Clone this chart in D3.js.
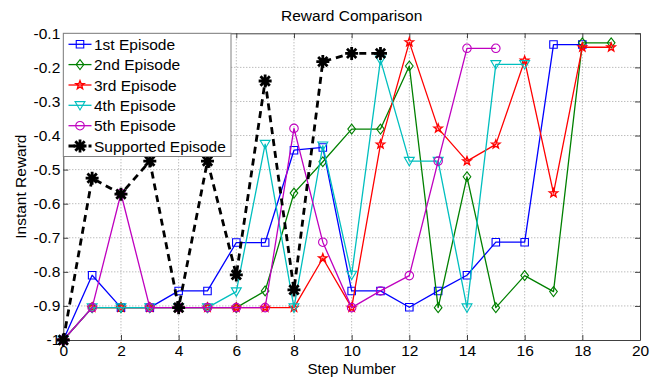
<!DOCTYPE html>
<html>
<head>
<meta charset="utf-8">
<script src="https://cdn.jsdelivr.net/npm/d3@7"></script>
<style>
html,body{margin:0;padding:0;background:#fff;}
svg{display:block;font-family:Arial,"Liberation Sans",Helvetica,sans-serif;}
</style>
</head>
<body>
<svg id="chart" width="660" height="377"></svg>
<script>
// ---- data ----
const episode1 = [-1,-0.81,-0.905,-0.905,-0.856,-0.856,-0.714,-0.714,-0.443,-0.435,-0.856,-0.856,-0.904,-0.856,-0.81,-0.713,-0.713,-0.133,-0.133];
const episode2 = [-1,-0.905,-0.905,-0.905,-0.905,-0.905,-0.905,-0.856,-0.569,-0.477,-0.381,-0.381,-0.196,-0.905,-0.521,-0.905,-0.811,-0.858,-0.128,-0.128];
const episode3 = [-1,-0.905,-0.905,-0.905,-0.905,-0.905,-0.905,-0.905,-0.905,-0.76,-0.905,-0.426,-0.126,-0.379,-0.475,-0.426,-0.18,-0.569,-0.141,-0.141];
const episode4 = [-1,-0.905,-0.905,-0.905,-0.905,-0.905,-0.858,-0.425,-0.905,-0.43,-0.809,-0.178,-0.475,-0.475,-0.905,-0.191,-0.191];
const episode5 = [-1,-0.905,-0.57,-0.905,-0.905,-0.905,-0.905,-0.905,-0.379,-0.713,-0.905,-0.856,-0.811,-0.475,-0.144,-0.144];
const supported = [-1,-0.525,-0.572,-0.475,-0.905,-0.475,-0.809,-0.24,-0.853,-0.183,-0.159,-0.159];
const seriesNames = ["1st Episode","2nd Episode","3rd Episode","4th Episode","5th Episode","Supported Episode"];
const xTicks = [0,2,4,6,8,10,12,14,16,18,20];
const yTicks = [-1,-0.9,-0.8,-0.7,-0.6,-0.5,-0.4,-0.3,-0.2,-0.1];
const title = "Reward Comparison";
const xLabel = "Step Number";
const yLabel = "Instant Reward";

// ---- styles ----
const styles = [
  {color:"#0000ff", marker:"square", width:1.3, dash:null},
  {color:"#008000", marker:"diamond", width:1.3, dash:null},
  {color:"#ff0000", marker:"star", width:1.3, dash:null},
  {color:"#00bfbf", marker:"tri", width:1.3, dash:null},
  {color:"#bf00bf", marker:"circle", width:1.3, dash:null},
  {color:"#000000", marker:"asterisk", width:2.8, dash:"7,5"}
];
const allSeries = [episode1,episode2,episode3,episode4,episode5,supported];

const svg = d3.select("#chart");
const L = 63.3, R = 640, T = 33.3, B = 340;
const x = d3.scaleLinear().domain([0,20]).range([L,R]);
const y = d3.scaleLinear().domain([-1,-0.1]).range([B,T]);
const axisColor = "#404040";

// grid
const grid = svg.append("g");
xTicks.slice(1,-1).forEach(t=>{
  grid.append("line").attr("x1",x(t)).attr("x2",x(t)).attr("y1",T).attr("y2",B)
    .attr("stroke","#a0a0a0").attr("stroke-width",1).attr("stroke-dasharray","1,2");
});
yTicks.slice(1,-1).forEach(t=>{
  grid.append("line").attr("x1",L).attr("x2",R).attr("y1",y(t)).attr("y2",y(t))
    .attr("stroke","#a0a0a0").attr("stroke-width",1).attr("stroke-dasharray","1,2");
});

// axes (ticks inward)
const fmtY = d => d === -1 ? "-1" : d.toFixed(1);
const xAxis = svg.append("g").attr("transform",`translate(0,${B})`)
  .call(d3.axisBottom(x).tickValues(xTicks).tickSizeInner(-5).tickSizeOuter(0).tickPadding(10));
const yAxis = svg.append("g").attr("transform",`translate(${L},0)`)
  .call(d3.axisLeft(y).tickValues(yTicks).tickFormat(fmtY).tickSizeInner(-5).tickSizeOuter(0).tickPadding(8));
const xAxisTop = svg.append("g").attr("transform",`translate(0,${T})`)
  .call(d3.axisTop(x).tickValues(xTicks).tickSizeInner(-5).tickSizeOuter(0).tickFormat(""));
const yAxisRight = svg.append("g").attr("transform",`translate(${R},0)`)
  .call(d3.axisRight(y).tickValues(yTicks).tickSizeInner(-5).tickSizeOuter(0).tickFormat(""));
[xAxis,yAxis,xAxisTop,yAxisRight].forEach(a=>{
  a.selectAll("path").attr("stroke",axisColor).attr("stroke-width",1);
  a.selectAll("line").attr("stroke",axisColor);
  a.selectAll("text").attr("fill","#000").style("font-size","15.5px").style("font-family","Arial, 'Liberation Sans', sans-serif");
});
xAxis.selectAll("text").attr("dy",null).attr("y",16);
yAxis.selectAll("text").attr("x",-3);

// markers
function markerPath(type, s){
  switch(type){
    case "square": { const h=s/2; return `M${-h},${-h}H${h}V${h}H${-h}Z`; }
    case "diamond": { const w=s*0.45, h=s*0.58; return `M0,${-h}L${w},0L0,${h}L${-w},0Z`; }
    case "tri": { const h=s*0.55; return `M${-h},${-h*0.75}L${h},${-h*0.75}L0,${h*0.95}Z`; }
    case "circle": { const r=s/2; return `M${r},0A${r},${r} 0 1,1 ${-r},0A${r},${r} 0 1,1 ${r},0Z`; }
    case "star": {
      const ro=s*0.58, ri=ro*0.42; let p="";
      for(let i=0;i<10;i++){ const r=i%2?ri:ro; const a=-Math.PI/2+i*Math.PI/5; p+=(i?"L":"M")+(r*Math.cos(a)).toFixed(2)+","+(r*Math.sin(a)).toFixed(2);} return p+"Z";
    }
    case "asterisk": {
      const h=s/2, d=h*0.72;
      return `M${-h},0H${h}M0,${-h}V${h}M${-d},${-d}L${d},${d}M${-d},${d}L${d},${-d}`;
    }
  }
}
const markerSize = {square:7.5, diamond:8.5, tri:9, circle:8.5, star:7.5, asterisk:13};

const line = d3.line().x((d,i)=>x(i)).y(d=>y(d));
allSeries.forEach((data,k)=>{
  const st = styles[k];
  const g = svg.append("g");
  g.append("path").datum(data).attr("d",line).attr("fill","none")
    .attr("stroke",st.color).attr("stroke-width",st.width)
    .attr("stroke-dasharray",st.dash).attr("stroke-linejoin","round");
  g.selectAll("path.m").data(data).enter().append("path").attr("class","m")
    .attr("transform",(d,i)=>`translate(${x(i)},${y(d)})`)
    .attr("d",markerPath(st.marker,markerSize[st.marker]))
    .attr("fill","none").attr("stroke",st.color)
    .attr("stroke-width",st.marker==="asterisk"?2.8:(st.marker==="star"?1.4:1.1));
});

// legend
const lg = svg.append("g");
lg.append("rect").attr("x",L).attr("y",T).attr("width",231-L).attr("height",156.5-T)
  .attr("fill","#fff").attr("stroke","#808080").attr("stroke-width",1);
const rowY = [44.3,64.6,85,105.3,125.7,146];
seriesNames.forEach((name,k)=>{
  const st = styles[k];
  const yy = rowY[k];
  lg.append("line").attr("x1",68.5).attr("x2",91.5).attr("y1",yy).attr("y2",yy)
    .attr("stroke",st.color).attr("stroke-width",st.width).attr("stroke-dasharray",st.dash?"6.5,3.5":null);
  lg.append("path").attr("transform",`translate(80,${yy})`)
    .attr("d",markerPath(st.marker,markerSize[st.marker]))
    .attr("fill","none").attr("stroke",st.color).attr("stroke-width",st.marker==="asterisk"?2.8:(st.marker==="star"?1.4:1.1));
  lg.append("text").attr("x",94).attr("y",yy).attr("dy","0.36em")
    .style("font-size","15.5px").text(name);
});

// titles
svg.append("text").attr("x",(L+R)/2).attr("y",21).attr("text-anchor","middle").style("font-size","15.5px").text(title);
svg.append("text").attr("x",(L+R)/2).attr("y",374).attr("text-anchor","middle").style("font-size","15px").text(xLabel);
svg.append("text").attr("transform",`translate(26,${(T+B)/2}) rotate(-90)`).attr("text-anchor","middle").style("font-size","15.5px").text(yLabel);
</script>
</body>
</html>
